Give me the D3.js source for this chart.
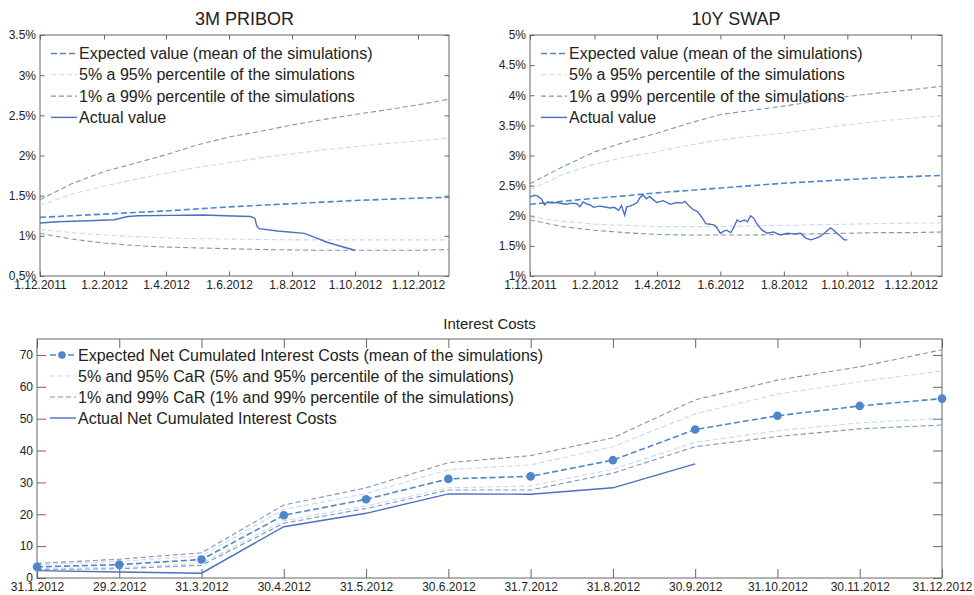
<!DOCTYPE html>
<html lang="en">
<head>
<meta charset="utf-8">
<title>Interest Costs at Risk</title>
<script src="https://cdn.jsdelivr.net/npm/d3@7"></script>
<style>
  body { margin: 0; background: #fff; }
  text { font-family: "Liberation Sans", Arial, Helvetica, sans-serif; }
</style>
</head>
<body>
<script>
// ---- data ----
var rateTickDates = ["1.12.2011", "1.2.2012", "1.4.2012", "1.6.2012", "1.8.2012", "1.10.2012", "1.12.2012"];
var bandDates = ["1.12.2011", "1.1.2012", "1.2.2012", "1.3.2012", "1.4.2012", "1.5.2012", "1.6.2012",
                 "1.7.2012", "1.8.2012", "1.9.2012", "1.10.2012", "1.11.2012", "1.12.2012", "31.12.2012"];

// 3M PRIBOR (%)
var priborTicks = [0.5, 1, 1.5, 2, 2.5, 3, 3.5];
var priborMean = [1.23, 1.25, 1.27, 1.29, 1.31, 1.335, 1.36, 1.38, 1.40, 1.42, 1.44, 1.455, 1.47, 1.48];
var pribor95   = [1.38, 1.52, 1.62, 1.70, 1.78, 1.85, 1.91, 1.97, 2.02, 2.07, 2.11, 2.15, 2.18, 2.22];
var pribor5    = [1.08, 1.04, 1.01, 0.99, 0.975, 0.965, 0.96, 0.955, 0.95, 0.95, 0.95, 0.95, 0.95, 0.95];
var pribor99   = [1.45, 1.65, 1.80, 1.90, 2.01, 2.13, 2.23, 2.30, 2.38, 2.45, 2.51, 2.57, 2.63, 2.70];
var pribor1    = [1.03, 0.96, 0.91, 0.88, 0.86, 0.85, 0.84, 0.83, 0.825, 0.82, 0.82, 0.82, 0.82, 0.83];
var priborActualDates = ["1.12.2011", "18.12.2011", "10.1.2012", "11.2.2012", "24.2.2012", "5.3.2012", "6.4.2012",
                         "8.5.2012", "28.5.2012", "22.6.2012", "26.6.2012", "28.6.2012", "30.6.2012", "18.7.2012",
                         "13.8.2012", "23.8.2012", "4.9.2012", "17.9.2012", "1.10.2012"];
var priborActual = [1.16, 1.175, 1.185, 1.20, 1.24, 1.25, 1.255, 1.26, 1.25, 1.24, 1.22, 1.12, 1.09, 1.06,
                    1.03, 0.98, 0.92, 0.87, 0.82];

// 10Y SWAP (%)
var swapTicks = [1, 1.5, 2, 2.5, 3, 3.5, 4, 4.5, 5];
var swapMean = [2.19, 2.24, 2.29, 2.33, 2.38, 2.42, 2.46, 2.50, 2.54, 2.57, 2.60, 2.63, 2.65, 2.67];
var swap95   = [2.43, 2.68, 2.86, 2.97, 3.06, 3.17, 3.26, 3.32, 3.37, 3.44, 3.51, 3.57, 3.62, 3.66];
var swap5    = [1.98, 1.91, 1.86, 1.84, 1.82, 1.82, 1.82, 1.83, 1.84, 1.85, 1.86, 1.87, 1.88, 1.88];
var swap99   = [2.53, 2.81, 3.06, 3.22, 3.37, 3.53, 3.68, 3.75, 3.82, 3.90, 3.98, 4.04, 4.09, 4.15];
var swap1    = [1.93, 1.82, 1.76, 1.72, 1.69, 1.68, 1.68, 1.68, 1.69, 1.70, 1.71, 1.72, 1.72, 1.73];
var swapActualDates = ["1.12.2011", "5.12.2011", "8.12.2011", "12.12.2011", "15.12.2011", "18.12.2011", "22.12.2011",
  "27.12.2011", "2.1.2012", "5.1.2012", "10.1.2012", "15.1.2012", "18.1.2012", "21.1.2012", "25.1.2012",
  "28.1.2012", "31.1.2012", "6.2.2012", "10.2.2012", "16.2.2012", "20.2.2012", "24.2.2012", "27.2.2012",
  "1.3.2012", "3.3.2012", "6.3.2012", "9.3.2012", "13.3.2012", "16.3.2012", "19.3.2012", "22.3.2012",
  "25.3.2012", "29.3.2012", "1.4.2012", "7.4.2012", "14.4.2012", "20.4.2012", "25.4.2012", "28.4.2012",
  "2.5.2012", "6.5.2012", "10.5.2012", "14.5.2012", "18.5.2012", "22.5.2012", "27.5.2012", "1.6.2012",
  "4.6.2012", "7.6.2012", "11.6.2012", "14.6.2012", "17.6.2012", "20.6.2012", "24.6.2012", "27.6.2012",
  "30.6.2012", "3.7.2012", "6.7.2012", "11.7.2012", "16.7.2012", "22.7.2012", "29.7.2012", "4.8.2012",
  "11.8.2012", "17.8.2012", "22.8.2012", "27.8.2012", "1.9.2012", "4.9.2012", "9.9.2012", "12.9.2012",
  "15.9.2012", "18.9.2012", "21.9.2012", "25.9.2012", "28.9.2012", "1.10.2012"];
var swapActual = [2.31, 2.34, 2.33, 2.28, 2.18, 2.23, 2.21,
  2.22, 2.20, 2.19, 2.21, 2.20, 2.15, 2.23, 2.19,
  2.18, 2.14, 2.16, 2.15, 2.13, 2.14, 2.09, 2.17,
  2.01, 2.15, 2.16, 2.18, 2.22, 2.31, 2.34, 2.28,
  2.32, 2.26, 2.22, 2.25, 2.19, 2.22, 2.21, 2.24,
  2.16, 2.10, 2.07, 1.98, 1.87, 1.86, 1.84, 1.71,
  1.74, 1.76, 1.72, 1.81, 1.93, 1.90, 1.93, 1.90,
  2.00, 1.96, 1.87, 1.76, 1.71, 1.73, 1.68, 1.71,
  1.70, 1.71, 1.63, 1.60, 1.63, 1.65, 1.71, 1.76,
  1.80, 1.76, 1.71, 1.65, 1.60, 1.60];

// Interest costs
var costMonths = ["31.1.2012", "29.2.2012", "31.3.2012", "30.4.2012", "31.5.2012", "30.6.2012",
                  "31.7.2012", "31.8.2012", "30.9.2012", "31.10.2012", "30.11.2012", "31.12.2012"];
var costTicks = [0, 10, 20, 30, 40, 50, 60, 70];
var costExpected = [3.5, 4.2, 5.8, 19.7, 24.7, 31.1, 31.9, 37.0, 46.6, 50.9, 54.0, 56.3];
var cost95 = [4.2, 5.2, 7.0, 21.5, 26.5, 34.0, 35.5, 41.2, 51.5, 57.7, 61.6, 65.0];
var cost5  = [3.0, 3.3, 4.6, 18.0, 22.6, 28.3, 28.9, 34.1, 42.6, 46.2, 48.7, 50.1];
var cost99 = [4.6, 5.9, 7.9, 22.9, 28.3, 36.2, 38.4, 44.0, 55.9, 62.1, 66.3, 71.6];
var cost1  = [2.7, 2.9, 4.0, 17.2, 21.8, 27.6, 27.6, 32.9, 41.2, 44.4, 46.8, 48.0];
var costActual = [2.3, 1.9, 1.5, 16.1, 20.3, 26.4, 26.3, 28.3, 35.8];

var rateLegend = ["Expected value (mean of the simulations)", "5% a 95% percentile of the simulations",
                  "1% a 99% percentile of the simulations", "Actual value"];
var costLegend = ["Expected Net Cumulated Interest Costs (mean of the simulations)",
                  "5% and 95% CaR (5% and 95% percentile of the simulations)",
                  "1% and 99% CaR (1% and 99% percentile of the simulations)",
                  "Actual Net Cumulated Interest Costs"];

// ---- styles ----
var st = {
  mean:   { color: "#4f86c9", width: 1.6, dash: "6,3" },
  p95:    { color: "#c4d9f1", width: 1.1, dash: "5,3" },
  p99:    { color: "#7f93bf", width: 1.1, dash: "5,3" },
  actual: { color: "#4a70bf", width: 1.4, dash: null }
};
var boxColor = "#666";
var textColor = "#222";

var parseDate = d3.timeParse("%d.%m.%Y");
var fmtDate = d3.timeFormat("%-d.%-m.%Y");

var svg = d3.select("body").append("svg").attr("width", 974).attr("height", 595);

function styleAxis(g) {
  g.select(".domain").remove();
  g.selectAll(".tick line").attr("stroke", boxColor);
  g.selectAll("text").attr("fill", textColor);
  g.attr("font-size", 12).attr("font-family", null);
}

function drawPath(g, pts, s) {
  g.append("path").datum(pts)
    .attr("fill", "none").attr("stroke", s.color).attr("stroke-width", s.width)
    .attr("stroke-dasharray", s.dash)
    .attr("d", d3.line().x(function(d) { return d[0]; }).y(function(d) { return d[1]; }));
}

function legend(g, lx, ly, gap, labels, styles, marker) {
  labels.forEach(function(lab, i) {
    var yy = ly + i * gap;
    drawPath(g, [[lx, yy], [lx + 26, yy]], styles[i]);
    if (marker && i == 0) {
      g.append("circle").attr("cx", lx + 12).attr("cy", yy).attr("r", 3.8).attr("fill", st.mean.color);
    }
    g.append("text").attr("x", lx + 28).attr("y", yy).attr("dy", "0.35em")
      .attr("font-size", 16).attr("fill", textColor).text(lab);
  });
}

function rateChart(x0, x1, y0, y1, ticks, title, mean, p95, p5, p99, p1, actDates, act) {
  var g = svg.append("g");
  var x = d3.scaleTime().domain([parseDate("1.12.2011"), parseDate("31.12.2012")]).range([x0, x1]);
  var y = d3.scaleLinear().domain([ticks[0], ticks[ticks.length - 1]]).range([y1, y0]);
  var tickDates = rateTickDates.map(parseDate);
  var tl = -4.5;

  g.append("g").attr("transform", "translate(0," + y1 + ")")
    .call(d3.axisBottom(x).tickValues(tickDates).tickFormat(fmtDate).tickSize(tl).tickPadding(4)).call(styleAxis);
  g.append("g").attr("transform", "translate(0," + y0 + ")")
    .call(d3.axisTop(x).tickValues(tickDates).tickFormat("").tickSize(tl)).call(styleAxis);
  g.append("g").attr("transform", "translate(" + x0 + ",0)")
    .call(d3.axisLeft(y).tickValues(ticks).tickFormat(function(d) { return d + "%"; }).tickSize(tl).tickPadding(4))
    .call(styleAxis);
  g.append("g").attr("transform", "translate(" + x1 + ",0)")
    .call(d3.axisRight(y).tickValues(ticks).tickFormat("").tickSize(tl)).call(styleAxis);

  g.append("rect").attr("x", x0).attr("y", y0).attr("width", x1 - x0).attr("height", y1 - y0)
    .attr("fill", "none").attr("stroke", boxColor).attr("stroke-width", 1);

  function pts(dates, vals) {
    return vals.map(function(v, i) { return [x(parseDate(dates[i])), y(v)]; });
  }
  drawPath(g, pts(bandDates, p99), st.p99);
  drawPath(g, pts(bandDates, p1), st.p99);
  drawPath(g, pts(bandDates, p95), st.p95);
  drawPath(g, pts(bandDates, p5), st.p95);
  drawPath(g, pts(bandDates, mean), st.mean);
  drawPath(g, pts(actDates, act), st.actual);

  legend(g, x0 + 11, 53.5, 21.3, rateLegend, [st.mean, st.p95, st.p99, st.actual], false);

  g.append("text").attr("x", (x0 + x1) / 2).attr("y", 25).attr("text-anchor", "middle")
    .attr("font-size", 18).attr("fill", textColor).text(title);
}

rateChart(40, 449, 35, 276, priborTicks, "3M PRIBOR", priborMean, pribor95, pribor5, pribor99, pribor1,
          priborActualDates, priborActual);
rateChart(530, 942, 35, 276, swapTicks, "10Y SWAP", swapMean, swap95, swap5, swap99, swap1,
          swapActualDates, swapActual);

// ---- Interest costs ----
(function() {
  var x0 = 37, x1 = 942, y0 = 339, y1 = 578;
  var g = svg.append("g");
  var x = d3.scalePoint().domain(costMonths).range([x0, x1]);
  var y = d3.scaleLinear().domain([0, 75]).range([y1, y0]);
  var tl = -9;

  g.append("g").attr("transform", "translate(0," + y1 + ")")
    .call(d3.axisBottom(x).tickSize(tl).tickPadding(4)).call(styleAxis);
  g.append("g").attr("transform", "translate(0," + y0 + ")")
    .call(d3.axisTop(x).tickFormat("").tickSize(tl)).call(styleAxis);
  g.append("g").attr("transform", "translate(" + x0 + ",0)")
    .call(d3.axisLeft(y).tickValues(costTicks).tickSize(tl).tickPadding(4)).call(styleAxis);
  g.append("g").attr("transform", "translate(" + x1 + ",0)")
    .call(d3.axisRight(y).tickValues(costTicks).tickFormat("").tickSize(tl)).call(styleAxis);

  g.append("rect").attr("x", x0).attr("y", y0).attr("width", x1 - x0).attr("height", y1 - y0)
    .attr("fill", "none").attr("stroke", boxColor).attr("stroke-width", 1);

  function pts(vals) {
    return vals.map(function(v, i) { return [x(costMonths[i]), y(v)]; });
  }
  drawPath(g, pts(cost99), st.p99);
  drawPath(g, pts(cost1), st.p99);
  drawPath(g, pts(cost95), st.p95);
  drawPath(g, pts(cost5), st.p95);
  drawPath(g, pts(costActual), st.actual);
  drawPath(g, pts(costExpected), st.mean);

  g.selectAll("circle.dot").data(costExpected).enter().append("circle").attr("class", "dot")
    .attr("cx", function(d, i) { return x(costMonths[i]); })
    .attr("cy", function(d) { return y(d); })
    .attr("r", 4.3).attr("fill", st.mean.color);

  legend(g, x0 + 13, 355, 21, costLegend, [st.mean, st.p95, st.p99, st.actual], true);

  g.append("text").attr("x", (x0 + x1) / 2).attr("y", 329).attr("text-anchor", "middle")
    .attr("font-size", 15).attr("fill", textColor).text("Interest Costs");
})();
</script>
</body>
</html>
